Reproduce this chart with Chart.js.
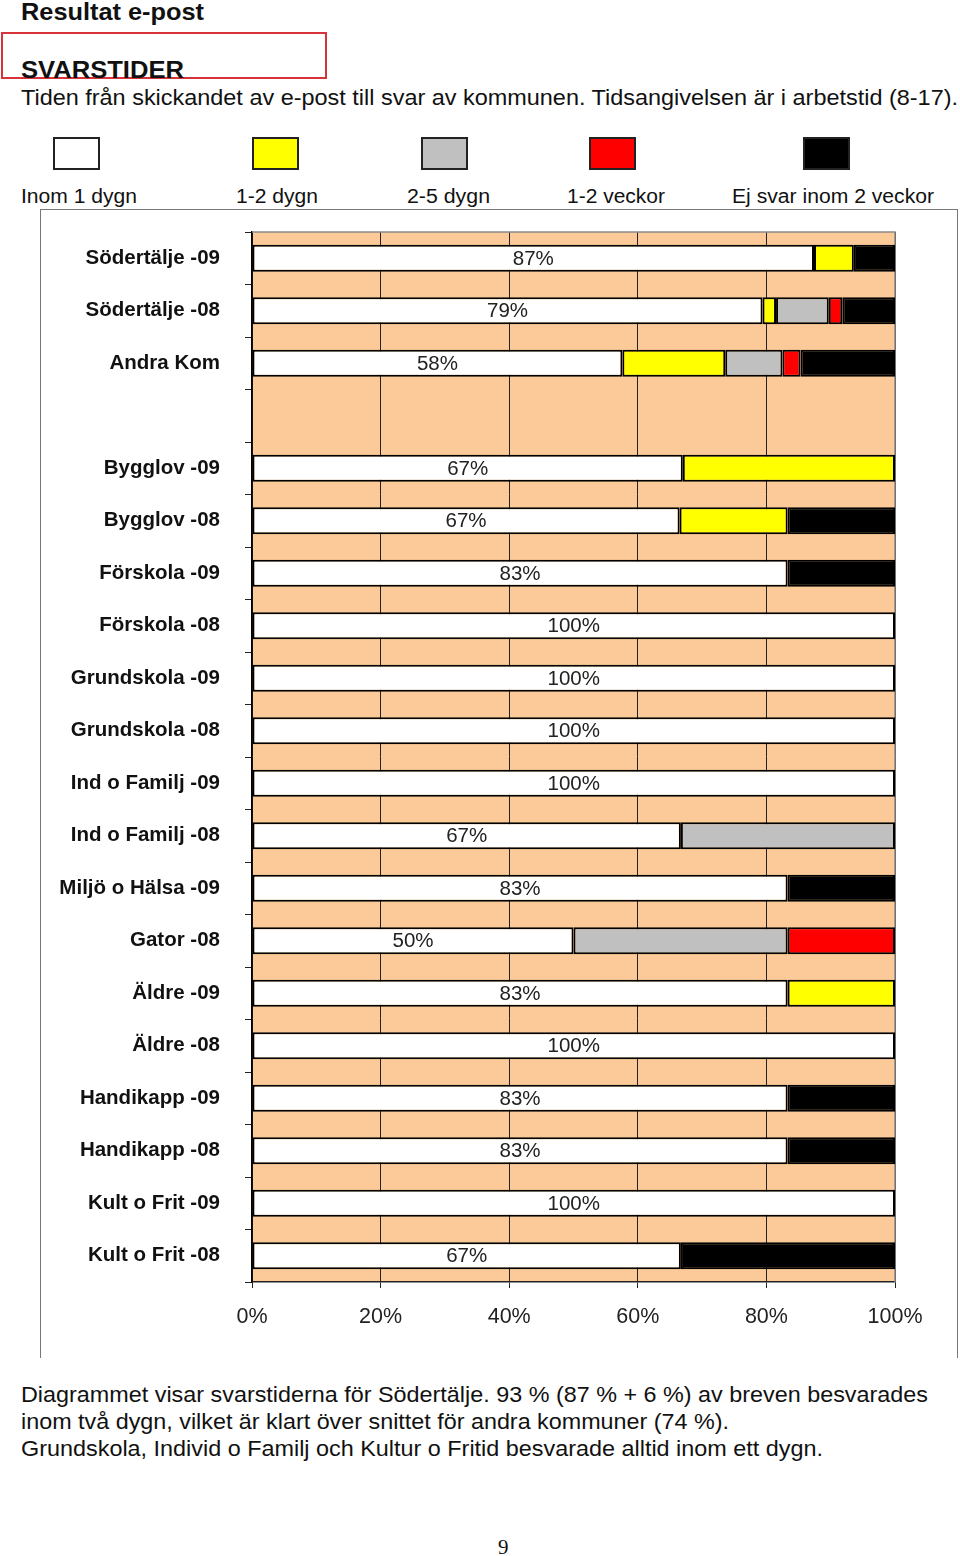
<!DOCTYPE html>
<html>
<head>
<meta charset="utf-8">
<script src="https://cdn.jsdelivr.net/npm/chart.js@4.4.1/dist/chart.umd.min.js"></script>
<style>
  body { margin: 0; background: #fff; font-family: 'Liberation Sans', Arial, sans-serif; color: #111; }
  .t { position: absolute; white-space: nowrap; line-height: 1; transform-origin: 0 0; }
  .box { position: absolute; width: 43px; height: 29px; border: 2px solid #222; }
  #frame { position: absolute; left: 40px; top: 209px; width: 916px; height: 1148px;
           border: 1px solid #777; border-bottom: none; }
  #chartCanvas { position: absolute; left: 41px; top: 210px; }
</style>
</head>
<body>
<div class="t" style="left:21px;top:0px;font-size:24px;font-weight:bold" data-w="183">Resultat e-post</div>
<div style="position:absolute;left:1px;top:32px;width:322px;height:43px;border:2px solid #d8333a"></div>
<div class="t" style="left:21px;top:58px;font-size:24px;font-weight:bold" data-w="163">SVARSTIDER</div>
<div class="t" style="left:21px;top:87px;font-size:22px" data-w="937">Tiden från skickandet av e-post till svar av kommunen. Tidsangivelsen är i arbetstid (8-17).</div>

<div id="legend"></div>

<div id="frame"></div>
<canvas id="chartCanvas" width="916" height="1146"></canvas>

<div class="t" style="left:21px;top:1384px;font-size:22px" data-w="907">Diagrammet visar svarstiderna för Södertälje. 93 % (87 % + 6 %) av breven besvarades</div>
<div class="t" style="left:21px;top:1411px;font-size:22px" data-w="708">inom två dygn, vilket är klart över snittet för andra kommuner (74 %).</div>
<div class="t" style="left:21px;top:1438px;font-size:22px" data-w="802">Grundskola, Individ o Familj och Kultur o Fritid besvarade alltid inom ett dygn.</div>
<div class="t" style="left:498px;top:1537px;font-size:21px;font-family:'Liberation Serif','DejaVu Serif',serif">9</div>

<script>
const categories = ['Södertälje -09', 'Södertälje -08', 'Andra Kom', '',
  'Bygglov -09', 'Bygglov -08', 'Förskola -09', 'Förskola -08',
  'Grundskola -09', 'Grundskola -08', 'Ind o Familj -09', 'Ind o Familj -08',
  'Miljö o Hälsa -09', 'Gator -08', 'Äldre -09', 'Äldre -08',
  'Handikapp -09', 'Handikapp -08', 'Kult o Frit -09', 'Kult o Frit -08'];

const seriesNames = ['Inom 1 dygn', '1-2 dygn', '2-5 dygn', '1-2 veckor', 'Ej svar inom 2 veckor'];
const seriesColors = ['#ffffff', '#ffff00', '#c0c0c0', '#ff0000', '#000000'];

const inom1dygn  = [87.4, 79.4, 57.6, null, 67, 66.5, 83.3, 100, 100, 100, 100, 66.7, 83.3, 50, 83.3, 100, 83.3, 83.3, 100, 66.7];
const dygn1_2    = [6.2, 2.1, 16, null, 33, 16.8, 0, 0, 0, 0, 0, 0, 0, 0, 16.7, 0, 0, 0, 0, 0];
const dygn2_5    = [0, 8.2, 8.9, null, 0, 0, 0, 0, 0, 0, 0, 33.3, 0, 33.3, 0, 0, 0, 0, 0, 0];
const veckor1_2  = [0, 2.1, 2.8, null, 0, 0, 0, 0, 0, 0, 0, 0, 0, 16.7, 0, 0, 0, 0, 0, 0];
const ejSvar     = [6.4, 8.2, 14.7, null, 0, 16.7, 16.7, 0, 0, 0, 0, 0, 16.7, 0, 0, 0, 16.7, 16.7, 0, 33.3];

const xTicks = [0, 20, 40, 60, 80, 100];

// legend drawn as html boxes + labels
const legendBoxX = [53, 252, 421, 589, 803];
const legendTextX = [21, 236, 407, 567, 732];
const legendTextW = [116, 82, 83, 98, 202];
const legend = document.getElementById('legend');
seriesNames.forEach((name, i) => {
  const b = document.createElement('div');
  b.className = 'box';
  Object.assign(b.style, {left: legendBoxX[i] + 'px', top: '137px', background: seriesColors[i]});
  legend.appendChild(b);
  const t = document.createElement('div');
  t.className = 't';
  t.textContent = name;
  t.dataset.w = legendTextW[i];
  Object.assign(t.style, {left: legendTextX[i] + 'px', top: '186px', fontSize: '20px'});
  legend.appendChild(t);
});

// squeeze text to the measured width of the original
document.querySelectorAll('[data-w]').forEach(el => {
  const w = el.getBoundingClientRect().width;
  el.style.transform = 'scaleX(' + (el.dataset.w / w) + ')';
});

const series = [inom1dygn, dygn1_2, dygn2_5, veckor1_2, ejSvar];
const FONT = '"Liberation Sans", Arial, sans-serif';

const plotBg = {
  id: 'plotBg',
  beforeDraw(chart) {
    const {ctx, chartArea: a} = chart;
    ctx.save();
    ctx.fillStyle = '#fbca98';
    ctx.fillRect(a.left, a.top, a.right - a.left, a.bottom - a.top);
    ctx.restore();
  },
  beforeDatasetsDraw(chart) {
    const {ctx, chartArea: a} = chart;
    ctx.save();
    ctx.strokeStyle = '#8a8a8a';
    ctx.lineWidth = 1.5;
    ctx.beginPath();
    ctx.moveTo(a.left, a.top);
    ctx.lineTo(a.right, a.top);
    ctx.lineTo(a.right, a.bottom);
    ctx.stroke();
    ctx.restore();
  }
};

const pctLabels = {
  id: 'pctLabels',
  afterDatasetsDraw(chart) {
    const {ctx} = chart;
    const meta = chart.getDatasetMeta(0);
    ctx.save();
    ctx.font = '20.5px ' + FONT;
    ctx.fillStyle = '#222';
    ctx.textAlign = 'center';
    ctx.textBaseline = 'middle';
    meta.data.forEach((el, i) => {
      const v = inom1dygn[i];
      if (v == null) return;
      ctx.fillText(Math.round(v) + '%', (el.x + el.base) / 2, el.y + 1);
    });
    ctx.restore();
  }
};

new Chart(document.getElementById('chartCanvas'), {
  type: 'bar',
  data: {
    labels: categories,
    datasets: series.map((vals, i) => ({
      label: seriesNames[i],
      data: vals.map(v => v || null),
      backgroundColor: seriesColors[i],
      borderColor: '#000',
      borderWidth: 2,
      borderSkipped: false,
      barPercentage: 0.51,
      categoryPercentage: 1
    }))
  },
  options: {
    indexAxis: 'y',
    responsive: false,
    animation: false,
    layout: {padding: {top: 22, right: 62, left: 0, bottom: 0}},
    plugins: {legend: {display: false}, tooltip: {enabled: false}},
    scales: {
      x: {
        stacked: true, min: 0, max: 100,
        afterBuildTicks: s => { s.ticks = xTicks.map(v => ({value: v})); },
        afterFit: s => { s.height = 74; },
        grid: {color: '#222', lineWidth: 1, tickLength: 6, tickColor: '#222'},
        border: {color: '#222', width: 1.5},
        ticks: {callback: v => v + '%', padding: 16, color: '#222',
                font: {family: FONT, size: 21.5}}
      },
      y: {
        stacked: true,
        afterFit: s => { s.width = 211; s.paddingTop = 0; s.paddingBottom = 0; },
        grid: {drawOnChartArea: false, offset: true, tickLength: 7, color: '#222'},
        border: {color: '#000', width: 1.5},
        ticks: {padding: 25, color: '#111', autoSkip: false,
                font: {family: FONT, size: 20.5, weight: 'bold'}}
      }
    }
  },
  plugins: [plotBg, pctLabels]
});
</script>
</body>
</html>
